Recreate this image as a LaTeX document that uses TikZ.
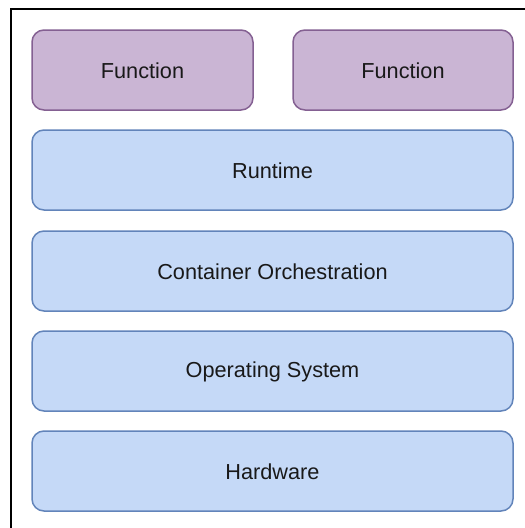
\documentclass[tikz,border=0pt]{standalone}
\usepackage{fontspec}
\setmainfont{Liberation Sans}
\definecolor{funcfill}{RGB}{202,181,212}
\definecolor{funcdraw}{RGB}{132,96,146}
\definecolor{layfill}{RGB}{197,217,247}
\definecolor{laydraw}{RGB}{98,132,186}
\begin{document}
\begin{tikzpicture}[x=1pt,y=-1pt,
  box/.style={rounded corners=12pt,line width=1.5pt},
  funcbox/.style={box,fill=funcfill,draw=funcdraw},
  laybox/.style={box,fill=layfill,draw=laydraw},
  lbl/.style={font=\fontsize{21.7}{26}\selectfont,text=black!90}]
\useasboundingbox (0,0) rectangle (525,528);
\fill[white] (0,0) rectangle (525,528);
\draw[line width=2.2pt,black] (11,540) -- (11,9) -- (540,9);
\draw[funcbox] (32,30) rectangle (253,110);
\node[lbl] (f1) at (142.5,71) {Function};
\draw[funcbox] (293,30) rectangle (513,110);
\node[lbl] (f2) at (403,71) {Function};
\draw[laybox] (32,130) rectangle (513,210);
\node[lbl] (rt) at (272.5,171) {Runtime};
\draw[laybox] (32,231) rectangle (513,311);
\node[lbl] (co) at (272.5,272) {Container Orchestration};
\draw[laybox] (32,331) rectangle (513,411);
\node[lbl] (os) at (272.5,372) {Operating System};
\draw[laybox] (32,431) rectangle (513,511);
\node[lbl] (hw) at (272.5,472) {Hardware};
\end{tikzpicture}
\end{document}
